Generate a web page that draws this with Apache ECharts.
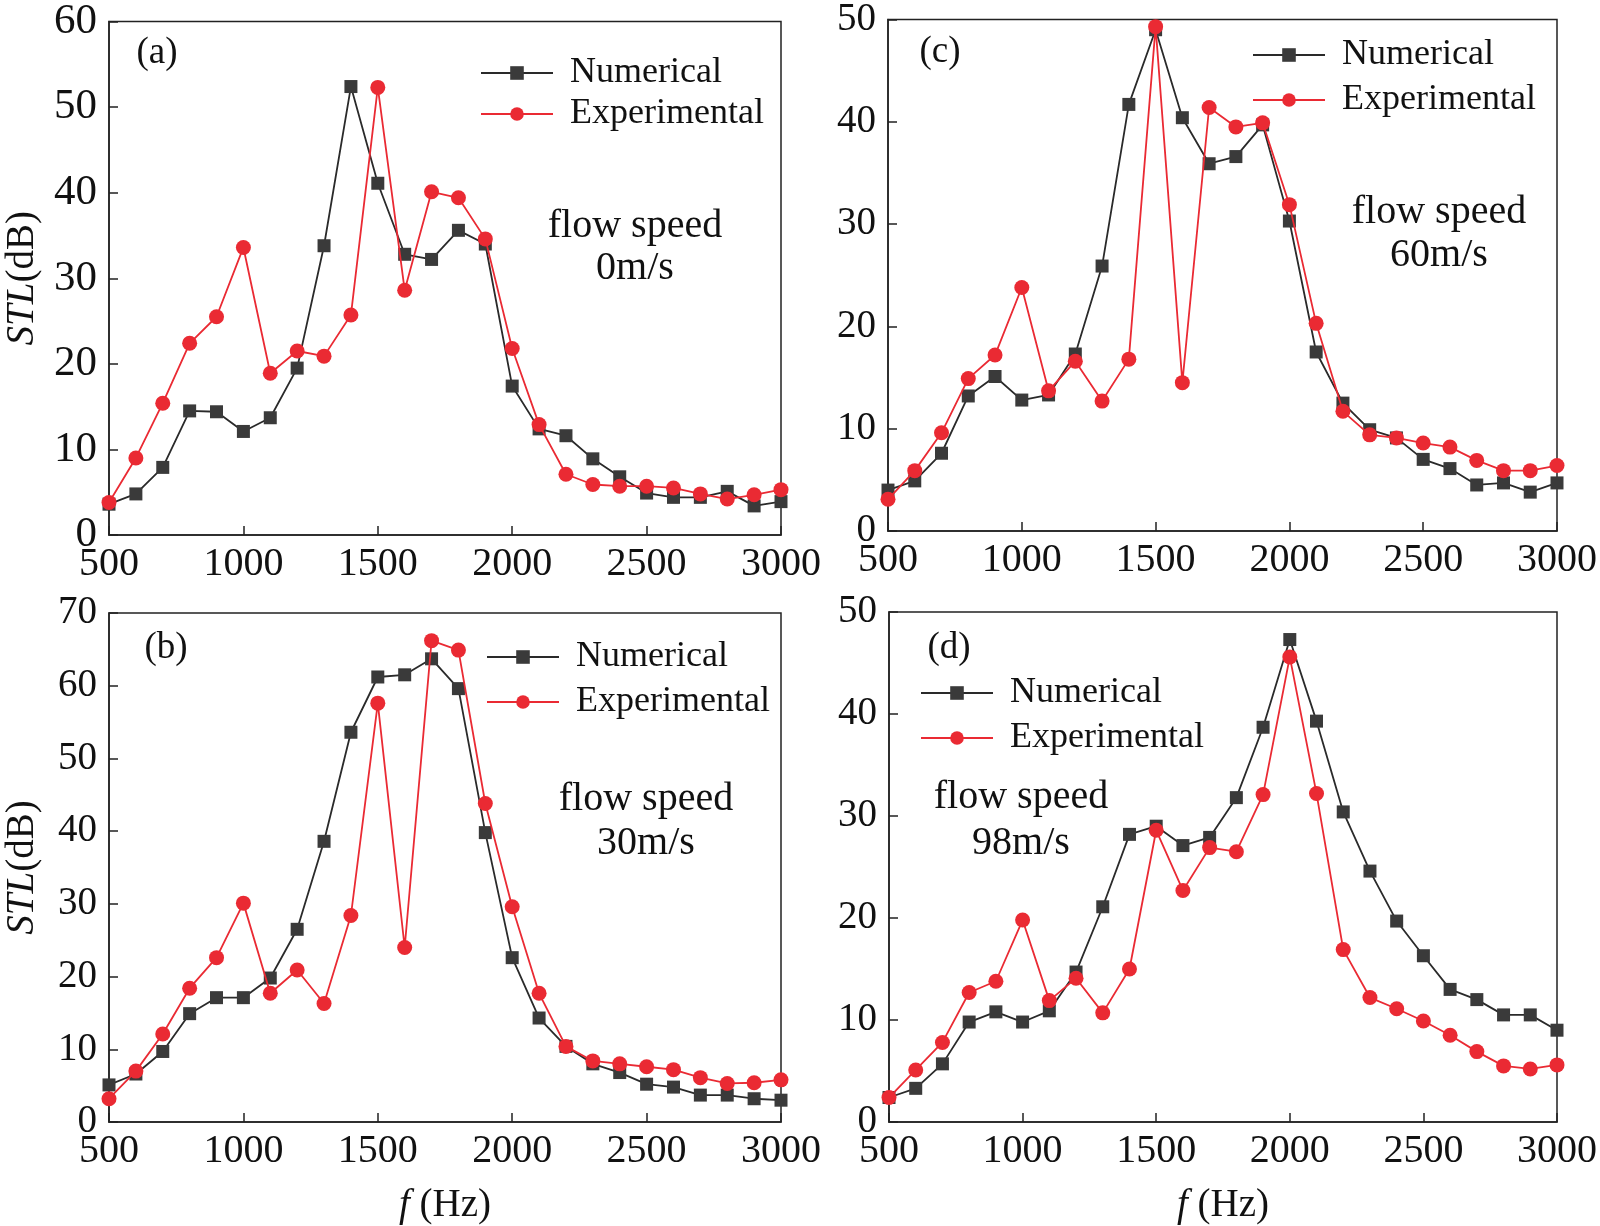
<!DOCTYPE html>
<html>
<head>
<meta charset="utf-8">
<script src="https://cdn.jsdelivr.net/npm/echarts@6/dist/echarts.min.js"></script>
<style>
html,body{margin:0;padding:0;background:#fff;}
#chart{width:1600px;height:1226px;}
</style>
</head>
<body>
<div id="chart"></div>
<script>
// Frequencies (Hz)
const freqs = [500,600,700,800,900,1000,1100,1200,1300,1400,1500,1600,1700,1800,1900,2000,2100,2200,2300,2400,2500,2600,2700,2800,2900,3000];

// (a) flow speed 0 m/s
const numA = [3.6,4.8,7.9,14.5,14.4,12.1,13.7,19.5,33.8,52.4,41.1,32.8,32.2,35.6,34.0,17.4,12.4,11.6,8.9,6.8,4.9,4.4,4.4,5.1,3.4,3.9];
const expA = [3.8,9.0,15.4,22.4,25.5,33.6,18.9,21.5,20.9,25.7,52.3,28.6,40.1,39.4,34.6,21.8,12.9,7.1,5.9,5.7,5.7,5.5,4.8,4.2,4.7,5.3];
// (c) flow speed 60 m/s
const numC = [4.0,4.9,7.6,13.2,15.1,12.8,13.3,17.3,25.9,41.7,49.0,40.4,35.9,36.6,39.7,30.3,17.5,12.5,9.9,9.1,7.0,6.1,4.5,4.7,3.8,4.7];
const expC = [3.1,5.9,9.6,14.9,17.2,23.8,13.7,16.6,12.7,16.8,49.3,14.5,41.4,39.5,39.9,31.9,20.3,11.7,9.4,9.1,8.6,8.2,6.9,5.9,5.9,6.4];
// (b) flow speed 30 m/s
const numB = [5.1,6.6,9.7,14.9,17.1,17.1,19.8,26.5,38.6,53.6,61.2,61.5,63.7,59.6,39.8,22.6,14.3,10.4,8.0,6.8,5.2,4.8,3.7,3.7,3.2,3.0];
const expB = [3.2,7.0,12.1,18.4,22.6,30.1,17.7,20.9,16.3,28.4,57.6,24.0,66.2,64.9,43.8,29.6,17.7,10.4,8.4,8.0,7.6,7.2,6.1,5.3,5.4,5.8];
// (d) flow speed 98 m/s
const numD = [2.4,3.3,5.7,9.8,10.8,9.8,10.9,14.7,21.1,28.2,29.0,27.1,27.9,31.8,38.7,47.3,39.3,30.4,24.6,19.7,16.3,13.0,12.0,10.5,10.5,9.0];
const expD = [2.4,5.1,7.8,12.7,13.8,19.8,11.9,14.1,10.7,15.0,28.6,22.7,26.9,26.5,32.1,45.6,32.2,16.9,12.2,11.1,9.9,8.5,6.9,5.5,5.2,5.6];

// Axis settings
const xMin = 500, xMax = 3000, xStep = 500;
const yMaxes = {a: 60, b: 70, c: 50, d: 50};
const yStep = 10;
const seriesNames = ['Numerical', 'Experimental'];
const panelLabels = ['(a)', '(b)', '(c)', '(d)'];
const speedLabels = ['0m/s', '30m/s', '60m/s', '98m/s'];

const FONT = 'Liberation Serif';
const INK = '#111';
const AXIS = '#222';
const NUM_COLOR = '#3a3a3a';
const EXP_COLOR = '#ea2a33';

const panels = [
  {key:'a', num:numA, exp:expA, grid:{left:109, top:19, width:672, height:516}, yName:true, xName:false, yFont:43,
   legend:{left:480, top:55, gap:5}, label:[157,53], speed:[635,226,268], speedIdx:0, labelIdx:0},
  {key:'c', num:numC, exp:expC, grid:{left:888, top:17, width:673, height:514}, yName:false, xName:false, yFont:39,
   legend:{left:1252, top:37, gap:9}, label:[940,52], speed:[1439,212,255], speedIdx:2, labelIdx:2},
  {key:'b', num:numB, exp:expB, grid:{left:109, top:613, width:672, height:516}, yName:true, xName:true, yFont:39,
   legend:{left:486, top:639, gap:9}, label:[166,648], speed:[646,799,843], speedIdx:1, labelIdx:1},
  {key:'d', num:numD, exp:expD, grid:{left:889, top:612, width:671, height:518}, yName:false, xName:true, yFont:39,
   legend:{left:920, top:675, gap:9}, label:[949,648], speed:[1021,797,843], speedIdx:3, labelIdx:3}
];

const grid = [], xAxis = [], yAxis = [], series = [], legend = [];

panels.forEach((p, i) => {
  grid.push(Object.assign({show:true, borderColor:AXIS, borderWidth:1.5, backgroundColor:'transparent'}, p.grid));
  xAxis.push({
    type:'value', gridIndex:i, min:xMin, max:xMax, interval:xStep,
    name: p.xName ? '{i|f} (Hz)' : '', nameLocation:'middle', nameGap:64,
    nameTextStyle:{fontFamily:FONT, fontSize:39, color:INK, rich:{i:{fontFamily:FONT, fontSize:39, fontStyle:'italic', color:INK}}},
    axisLine:{show:true, lineStyle:{color:AXIS, width:1.5}},
    axisTick:{show:true, inside:true, length:9, lineStyle:{color:AXIS, width:1.5}},
    axisLabel:{fontFamily:FONT, fontSize:40, color:INK, margin:9, formatter:v => String(v)},
    splitLine:{show:false}
  });
  yAxis.push({
    type:'value', gridIndex:i, min:0, max:yMaxes[p.key], interval:yStep,
    name: p.yName ? '{i|STL}(dB)' : '', nameLocation:'middle', nameGap:67,
    nameTextStyle:{fontFamily:FONT, fontSize:39, color:INK, rich:{i:{fontFamily:FONT, fontSize:39, fontStyle:'italic', color:INK}}},
    axisLine:{show:true, lineStyle:{color:AXIS, width:1.5}},
    axisTick:{show:true, inside:true, length:9, lineStyle:{color:AXIS, width:1.5}},
    axisLabel:{fontFamily:FONT, fontSize:p.yFont, color:INK, margin:12},
    splitLine:{show:false}
  });
  series.push({
    name:seriesNames[0], type:'line', xAxisIndex:i, yAxisIndex:i,
    data: freqs.map((f, k) => [f, p.num[k]]),
    symbol:'rect', symbolSize:13,
    lineStyle:{color:'#2a2a2a', width:1.8},
    itemStyle:{color:NUM_COLOR},
    z:2, animation:false
  });
  series.push({
    name:seriesNames[1], type:'line', xAxisIndex:i, yAxisIndex:i,
    data: freqs.map((f, k) => [f, p.exp[k]]),
    symbol:'circle', symbolSize:15,
    lineStyle:{color:EXP_COLOR, width:1.8},
    itemStyle:{color:EXP_COLOR},
    z:3, animation:false
  });
  legend.push({
    orient:'vertical', left:p.legend.left, top:p.legend.top,
    itemWidth:72, itemHeight:17, itemGap:p.legend.gap, padding:0,
    data:[seriesNames[0], seriesNames[1]],
    textStyle:{fontFamily:FONT, fontSize:36, color:INK, lineHeight:36, padding:[0,0,0,12]}
  });
});

// Text annotations (panel labels and flow speed notes)
const gfx = [];
panels.forEach(p => {
  gfx.push({type:'text', x:p.label[0], y:p.label[1],
    style:{text:panelLabels[p.labelIdx], font:'37px "Liberation Serif"', fill:INK, align:'center', verticalAlign:'middle'}});
  gfx.push({type:'text', x:p.speed[0], y:p.speed[1],
    style:{text:'flow speed', font:'40px "Liberation Serif"', fill:INK, align:'center', verticalAlign:'middle'}});
  gfx.push({type:'text', x:p.speed[0], y:p.speed[2],
    style:{text:speedLabels[p.speedIdx], font:'40px "Liberation Serif"', fill:INK, align:'center', verticalAlign:'middle'}});
});

const chart = echarts.init(document.getElementById('chart'), null, {renderer:'canvas'});
chart.setOption({
  animation:false,
  backgroundColor:'#fff',
  grid, xAxis, yAxis, series, legend,
  graphic: gfx
});
</script>
</body>
</html>
